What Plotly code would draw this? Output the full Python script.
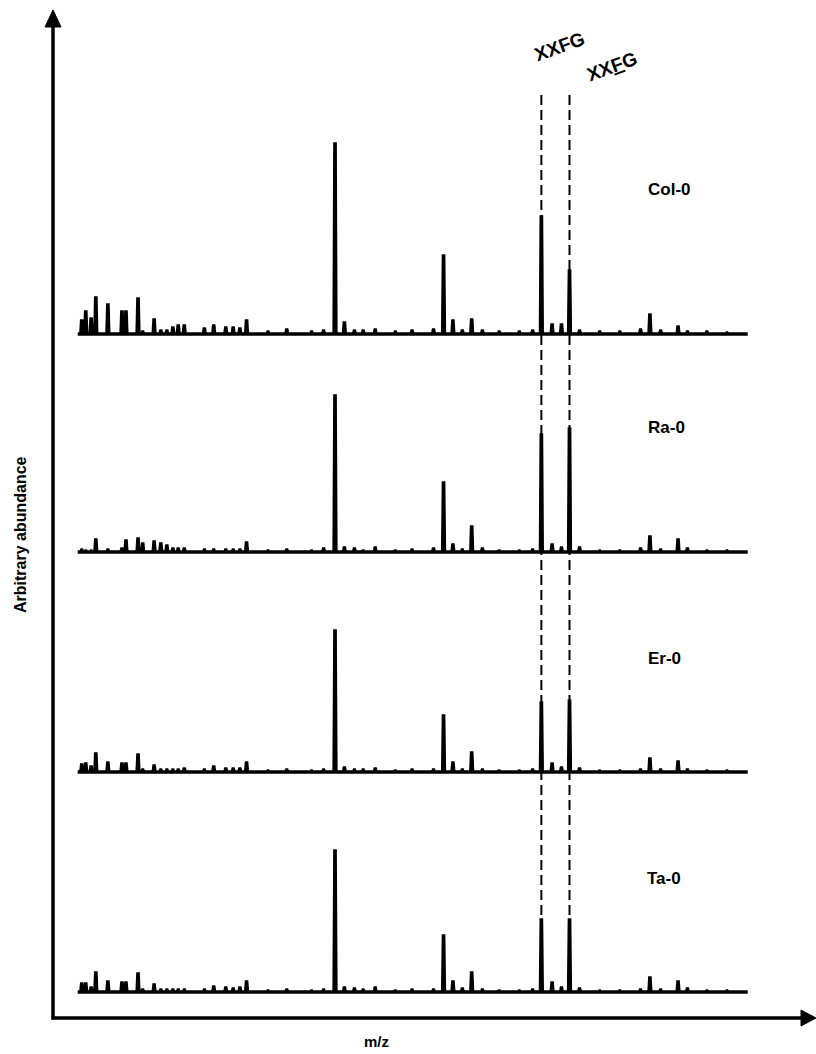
import plotly.graph_objects as go

W, H = 816, 1054

# ---------------------------------------------------------------------------
# Peak list (m/z) shared by the four accessions and their relative abundances
# ---------------------------------------------------------------------------
MZ_PEAKS = [707, 713, 721, 728, 746, 767, 773, 791, 798, 815,
            825, 834, 843, 851, 860, 890, 904, 922, 933, 943,
            953, 985, 1013, 1050, 1068, 1085, 1099, 1114, 1127, 1145,
            1175, 1200, 1232, 1247, 1261, 1275, 1289, 1305, 1330, 1360,
            1380, 1393, 1409, 1423, 1435, 1450, 1480, 1510, 1541, 1555,
            1571, 1597, 1611, 1640, 1670]

COL_0 = [13, 22, 15, 36, 29, 22, 22, 35, 2, 14,
         3, 3, 6, 8, 8, 5, 8, 6, 6, 5,
         13, 2, 4, 2, 3, 190, 11, 3, 3, 4,
         2, 3, 4, 78, 13, 3, 14, 3, 2, 2,
         3, 117, 9, 9, 63, 3, 2, 2, 4, 19,
         3, 7, 2, 2, 1]

RA_0 = [2, 1, 1, 12, 2, 3, 11, 13, 8, 10,
        8, 6, 3, 3, 3, 2, 2, 2, 2, 2,
        9, 1, 2, 1, 3, 156, 4, 3, 1, 4,
        1, 2, 3, 69, 7, 2, 25, 3, 1, 1,
        2, 117, 7, 4, 123, 4, 1, 1, 3, 15,
        2, 12, 3, 1, 1]

ER_0 = [7, 8, 5, 18, 9, 8, 8, 17, 2, 6,
        2, 2, 2, 2, 3, 2, 5, 3, 3, 3,
        9, 1, 2, 1, 2, 141, 4, 2, 2, 3,
        1, 2, 2, 56, 9, 2, 19, 2, 1, 1,
        2, 69, 8, 4, 71, 3, 1, 1, 2, 13,
        2, 10, 2, 1, 1]

TA_0 = [8, 8, 4, 19, 10, 9, 9, 18, 2, 7,
        2, 2, 2, 2, 2, 2, 5, 4, 3, 4,
        10, 1, 2, 1, 2, 141, 4, 3, 2, 4,
        1, 2, 2, 56, 10, 3, 19, 2, 1, 1,
        2, 72, 9, 4, 72, 3, 1, 1, 2, 14,
        2, 10, 3, 1, 1]

SAMPLES = ["Col-0", "Ra-0", "Er-0", "Ta-0"]
ABUNDANCES = [COL_0, RA_0, ER_0, TA_0]

MZ_START, MZ_END = 701, 1701          # acquired m/z window
XXFG_MZ = 1393                        # XXFG
XXFG_AC_MZ = 1435                     # XXFG, acetylated Fuc

# ---------------------------------------------------------------------------
# Layout (page pixels)
# ---------------------------------------------------------------------------
X_RANGE = [585.0, 1802.9]             # m/z shown across the full page width
BASELINE_PX = [334, 552, 772, 992]    # baseline of each stacked spectrum
PANEL_PX = 200                        # height (px) of one abundance panel
Y_RANGE = [-6, 200]
LABEL_PX = [(669, 189), (666, 428), (664, 658), (664, 878)]
AXIS_X_PX, AXIS_Y_PX = 53, 1018

FONT = "Liberation Sans, Arial, Helvetica, sans-serif"


def px(x):
    return x / W


def py(y):
    return 1 - y / H


def profile_trace(mz, inten, foot=1.4, crest=0.25):
    """Continuous profile built from the centroid list (narrow trapezoids)."""
    xs, ys = [MZ_START], [0]
    for m, v in sorted(zip(mz, inten)):
        xs += [m - foot, m - crest, m + crest, m + foot]
        ys += [0, v, v, 0]
    xs.append(MZ_END)
    ys.append(0)
    return xs, ys


fig = go.Figure()
layout_axes = {}
for i, (name, vals) in enumerate(zip(SAMPLES, ABUNDANCES)):
    xs, ys = profile_trace(MZ_PEAKS, vals)
    yname = "y" if i == 0 else f"y{i + 1}"
    fig.add_trace(go.Scatter(
        x=xs, y=ys, mode="lines", name=name, yaxis=yname, xaxis="x",
        line=dict(color="black", width=3.4), showlegend=False,
        hoverinfo="skip"))
    base = BASELINE_PX[i]
    scale = PANEL_PX / (Y_RANGE[1] - 0)
    bottom = base + (0 - Y_RANGE[0]) * scale
    top = base - PANEL_PX
    key = "yaxis" if i == 0 else f"yaxis{i + 1}"
    layout_axes[key] = dict(domain=[py(bottom), py(top)], range=Y_RANGE,
                            visible=False, anchor="x", fixedrange=True)

shapes = []
# dashed guides through the two XXFG ions
for m in (XXFG_MZ, XXFG_AC_MZ):
    shapes.append(dict(type="line", xref="x", yref="paper",
                       x0=m, x1=m, y0=py(95), y1=py(990),
                       line=dict(color="black", width=2, dash="10px,5px")))

# axes with arrowheads
shapes.append(dict(type="line", xref="paper", yref="paper",
                   x0=px(AXIS_X_PX), x1=px(AXIS_X_PX),
                   y0=py(AXIS_Y_PX + 1.5), y1=py(24),
                   line=dict(color="black", width=3.5)))
shapes.append(dict(type="line", xref="paper", yref="paper",
                   x0=px(AXIS_X_PX - 1.5), x1=px(804),
                   y0=py(AXIS_Y_PX), y1=py(AXIS_Y_PX),
                   line=dict(color="black", width=3.5)))
shapes.append(dict(
    type="path", xref="paper", yref="paper", fillcolor="black",
    line=dict(color="black", width=1),
    path=(f"M {px(AXIS_X_PX)},{py(10)} L {px(AXIS_X_PX - 8)},{py(27)} "
          f"L {px(AXIS_X_PX + 8)},{py(27)} Z")))
shapes.append(dict(
    type="path", xref="paper", yref="paper", fillcolor="black",
    line=dict(color="black", width=1),
    path=(f"M {px(816)},{py(AXIS_Y_PX)} L {px(801)},{py(AXIS_Y_PX - 8)} "
          f"L {px(801)},{py(AXIS_Y_PX + 8)} Z")))

annotations = []
for name, (lx, ly) in zip(SAMPLES, LABEL_PX):
    annotations.append(dict(text=f"<b>{name}</b>", x=px(lx), y=py(ly),
                            xref="paper", yref="paper", showarrow=False,
                            xanchor="center", yanchor="middle",
                            font=dict(family=FONT, size=17, color="black")))

annotations.append(dict(text="<b>XXFG</b>", x=px(560), y=py(47),
                        xref="paper", yref="paper", showarrow=False,
                        textangle=-20, xanchor="center", yanchor="middle",
                        font=dict(family=FONT, size=19, color="black")))
annotations.append(dict(text="<b>XX<u>F</u>G</b>", x=px(612), y=py(66),
                        xref="paper", yref="paper", showarrow=False,
                        textangle=-20, xanchor="center", yanchor="middle",
                        font=dict(family=FONT, size=19, color="black")))
annotations.append(dict(text="<b>Arbitrary abundance</b>", x=px(20), y=py(535),
                        xref="paper", yref="paper", showarrow=False,
                        textangle=-90, xanchor="center", yanchor="middle",
                        font=dict(family=FONT, size=16, color="black")))
annotations.append(dict(text="<b>m/z</b>", x=px(376), y=py(1041),
                        xref="paper", yref="paper", showarrow=False,
                        xanchor="center", yanchor="middle",
                        font=dict(family=FONT, size=15, color="black")))

fig.update_layout(
    width=W, height=H,
    margin=dict(l=0, r=0, t=0, b=0),
    paper_bgcolor="white", plot_bgcolor="rgba(0,0,0,0)",
    xaxis=dict(domain=[0, 1], range=X_RANGE, visible=False,
               fixedrange=True, anchor="y"),
    shapes=shapes, annotations=annotations,
    showlegend=False,
    **layout_axes,
)

fig.write_html("out.html", config={"displayModeBar": False})
